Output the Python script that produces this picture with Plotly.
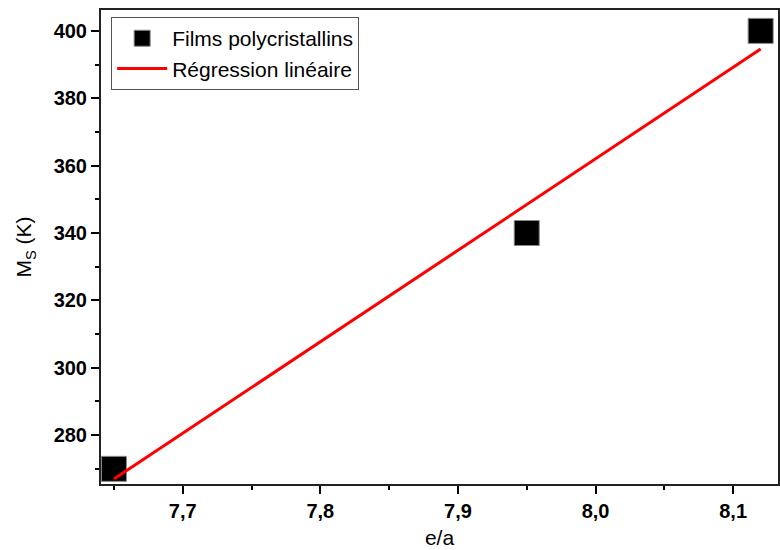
import plotly.graph_objects as go

# Data
ea_points = [7.65, 7.95, 8.12]
ms_points = [270, 340, 400]
reg_x = [7.65, 8.12]
reg_y = [267.0, 394.6]
x_ticks = [7.7, 7.8, 7.9, 8.0, 8.1]
x_ticklabels = ["7,7", "7,8", "7,9", "8,0", "8,1"]
y_ticks = [280, 300, 320, 340, 360, 380, 400]

FONT = "Arial, Liberation Sans, sans-serif"

fig = go.Figure()
fig.add_trace(go.Scatter(
    x=ea_points, y=ms_points, mode="markers", name="Films polycristallins",
    marker=dict(symbol="square", size=25, color="black",
                line=dict(color="#888888", width=1)),
))
fig.add_trace(go.Scatter(
    x=reg_x, y=reg_y, mode="lines", name="Régression linéaire",
    line=dict(color="#ff0000", width=3),
))

fig.update_layout(
    width=780, height=550,
    margin=dict(l=101, r=0, t=10, b=66),
    paper_bgcolor="white", plot_bgcolor="white",
    font=dict(family=FONT, color="black"),
    showlegend=True,
    legend=dict(
        x=0.015, y=0.985, xanchor="left", yanchor="top",
        bgcolor="white", bordercolor="#555555", borderwidth=1,
        font=dict(size=21, color="black", family=FONT),
        itemwidth=50, tracegroupgap=0,
    ),
)
fig.update_xaxes(
    range=[7.6406, 8.1326],
    tickmode="array", tickvals=x_ticks, ticktext=x_ticklabels,
    ticks="outside", ticklen=8, tickwidth=1.5, tickcolor="black",
    tickfont=dict(size=20, family=FONT, weight="bold"),
    showline=True, linecolor="#222222", linewidth=2, mirror=True,
    showgrid=False, zeroline=False,
    minor=dict(tickvals=[7.65, 7.75, 7.85, 7.95, 8.05], ticks="outside", ticklen=4,
               tickcolor="black", tickwidth=1.5),
    title=dict(text="e/a", font=dict(size=21, family=FONT), standoff=9),
)
fig.update_yaxes(
    range=[265.5, 406.2],
    tickmode="array", tickvals=y_ticks,
    ticks="outside", ticklen=8, tickwidth=1.5, tickcolor="black",
    tickfont=dict(size=20, family=FONT, weight="bold"),
    showline=True, linecolor="#222222", linewidth=2, mirror=True,
    showgrid=False, zeroline=False,
    minor=dict(tickvals=[270, 290, 310, 330, 350, 370, 390], ticks="outside", ticklen=4,
               tickcolor="black", tickwidth=1.5),
    title=dict(text="M<sub>S</sub> (K)", font=dict(size=21, family=FONT), standoff=16),
)

fig.write_html("out.html", config={"displayModeBar": False},
               post_script="document.body.style.margin='0';document.body.style.overflow='hidden';")
